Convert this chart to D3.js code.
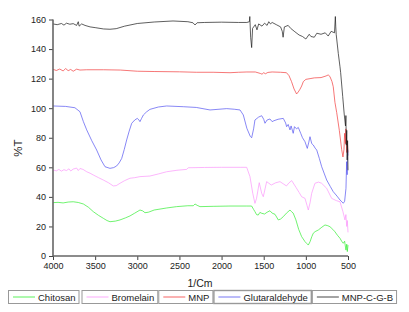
<!DOCTYPE html>
<head>
  <title>FTIR</title>
  <meta charset="utf-8">
  <script type="text/javascript" src="https://cdn.jsdelivr.net/npm/d3@7"></script>
  <style>
    body { margin: 0; background: #fff; }
    text { font-family: "Liberation Sans", Arial, sans-serif; fill: #222; }
  </style>
</head>
<body>
<script>
// legend order
var names = ["Chitosan", "Bromelain", "MNP", "Glutaraldehyde", "MNP-C-G-B"];
var colors = ["#33ee33", "#fa96fa", "#f23c3c", "#5555f0", "#1a1a1a"];

var xTicks = [4000, 3500, 3000, 2500, 2000, 1500, 1000, 500];
var yTicks = [0, 20, 40, 60, 80, 100, 120, 140, 160];

// wavenumber (1/cm) and %T
var chitosanW = [4000,3940,3880,3820,3760,3700,3640,3580,3522,3460,3403,3360,3324,3260,3205,3140,3087,3030,2968,2935,2909,2870,2850,2800,2650,2533,2400,2336,2315,2290,2256,2100,1900,1781,1700,1643,1620,1604,1585,1565,1545,1524,1490,1460,1426,1400,1366,1327,1300,1268,1230,1188,1170,1150,1118,1085,1050,1010,990,971,950,930,912,890,852,810,773,740,714,680,655,625,595,575,556,540,530,524,515,508,500];
var chitosanT = [36.1,36.3,35.9,36.5,36.7,36.2,35.2,33,30,27.5,25.5,24,23.2,23.6,24.4,25.8,27.1,29,31.1,30.5,29.3,29.6,30,31.1,32.5,33.4,34,34,35.2,34.3,33.4,33.6,33.8,33.8,33.8,33.8,31.5,30,28,27.7,29.5,28.9,28.4,29.6,30.6,29,28.2,24.4,25,26.6,29,31.1,30,29,24.4,18,13.1,9.7,8.5,7.4,9.7,13,15.4,16.5,17.6,19.5,21,20.5,19.8,18,16.4,14,12,10,8.6,10,6,4,8,3,7.4];

var bromelainW = [4000,3960,3930,3900,3870,3840,3810,3790,3760,3720,3700,3680,3644,3600,3560,3522,3460,3403,3340,3285,3250,3205,3150,3087,3030,2968,2850,2750,2651,2530,2414,2395,2200,2000,1781,1702,1663,1630,1604,1585,1553,1524,1505,1465,1410,1360,1307,1230,1200,1168,1118,1080,1050,1010,985,971,950,931,892,850,813,753,694,640,595,560,536,525,515,508,500];
var bromelainT = [58.2,57.6,58.6,57.4,58.4,57.8,59,57.5,58.8,59.5,57.8,59.2,58.6,57,56,54.8,53,51.4,49.5,47.4,47.6,49.2,51,52.6,53,53.7,54.1,55.5,57,58,58.6,59.7,59.9,60,60,60,53.7,42.4,35.6,39,49.6,42.4,40.1,50.3,48,49.5,50.3,47.4,49.5,51,46.5,43,40.1,39,34,31.1,36,42.4,49.2,50,49.2,45.8,39,37.5,36.7,30,24.4,28,20,24,16];

var mnpW = [4000,3960,3920,3880,3850,3820,3790,3760,3720,3680,3600,3400,3200,3000,2800,2500,2300,2100,1900,1800,1700,1600,1540,1520,1500,1480,1450,1400,1300,1230,1200,1170,1140,1110,1090,1070,1050,1030,1000,950,900,820,760,735,715,690,675,655,634,603,575,560,548,540,530,525,515,508,500];
var mnpT = [126.3,125.5,126.5,125.2,126.8,125.4,126.2,125,126.4,125.8,126,126,125.8,125,124.8,124.6,124.3,124.3,124,124.3,124.5,124.5,123.5,123,124,123.3,124.2,124.5,124.3,124,122,118,113,109.6,111,112.8,115,118,119.5,120,120.5,120.7,121.8,122.5,121.5,118,114.5,104,97,85,72,67,72,83,76,86,70,78,70];

var glutW = [4000,3850,3740,3680,3640,3600,3540,3482,3430,3383,3324,3280,3245,3215,3185,3155,3126,3096,3066,3030,3000,2980,2968,2950,2928,2890,2850,2750,2651,2454,2300,2137,1940,1850,1781,1742,1700,1660,1643,1620,1604,1560,1524,1500,1485,1460,1426,1400,1380,1330,1268,1240,1228,1210,1188,1175,1150,1135,1110,1090,1061,1040,1010,983,965,951,930,912,890,871,840,812,780,753,710,675,630,595,556,540,524,516,510,505,500];
var glutT = [101.5,101.2,100.3,97.6,91,85.3,78,71.7,65,60.4,59.3,59.8,60.9,63,66,72,78.5,84.5,89.8,92,93.1,92,90.9,93,95.4,97.5,99.2,100.8,101.5,101,100.5,98.8,99.7,99.3,98.8,95.4,86.4,81,80,86,92,94,94.9,92.5,89.8,92,92.7,90.9,91.5,92.5,93.1,90,87.5,89,85.3,88,83,87.5,86,87,83,80,77.3,72.8,77,80.7,76,75.1,73,71.7,66,60.4,55.5,51.4,47,43.5,40.5,37.9,35.7,37,45.8,63.8,55,72,68];

var mcgbW = [4000,3950,3900,3870,3840,3800,3760,3720,3700,3690,3660,3620,3560,3500,3400,3324,3250,3150,3000,2800,2576,2400,2340,2315,2290,2200,2000,1800,1700,1670,1665,1655,1643,1632,1600,1580,1560,1520,1490,1460,1440,1420,1400,1350,1300,1280,1270,1255,1210,1180,1130,1080,1040,1000,960,940,900,870,820,770,735,700,660,650,645,640,615,595,587,563,545,530,525,520,515,510,505,500];
var mcgbT = [157,156.5,157.3,156.2,157.5,156.8,157.2,156,158.5,155.5,157,156,155,154.5,153.6,153.4,153.8,155.5,157.3,158.3,159,158.5,157.8,156.3,157.8,158,158.2,158,158,158.5,162,148,141,154,156.5,153,157,155.5,157.5,156,158.5,157,158,156.5,155,152,148,155,156,154,151.7,149.5,148.5,146.8,150,148.5,148,150.7,150,151,148.8,152,151,162,155,150,137,128,124,108,96,88,95,75,85,65,78,58];

var series = [
  [chitosanW, chitosanT],
  [bromelainW, bromelainT],
  [mnpW, mnpT],
  [glutW, glutT],
  [mcgbW, mcgbT]
];

var W = 409, H = 312;
var svg = d3.select("body").append("svg")
  .attr("width", W).attr("height", H);

var x = d3.scaleLinear().domain([4000, 500]).range([53, 348]);
var y = d3.scaleLinear().domain([0, 160]).range([256, 19.5]);

var line = d3.line()
  .x(function(d) { return x(d[0]); })
  .y(function(d) { return y(d[1]); });

// draw black on top, like the original
for (var i = 0; i < series.length; i++) {
  var pts = series[i][0].map(function(w, j) { return [w, series[i][1][j]]; });
  svg.append("path")
    .datum(pts)
    .attr("fill", "none")
    .attr("stroke", colors[i])
    .attr("stroke-width", 0.7)
    .attr("stroke-linejoin", "round")
    .attr("d", line);
}

// minor ticks
var xMinor = d3.range(4000, 499, -250);
var yMinor = d3.range(0, 161, 10);

var gx = svg.append("g").attr("transform", "translate(0,256)");
gx.call(d3.axisBottom(x).tickValues(xMinor).tickSize(2.5).tickFormat(""));
gx.call(d3.axisBottom(x).tickValues(xTicks).tickSize(4).tickPadding(3).tickFormat(d3.format("d")));
gx.selectAll("text").style("font-size", "9px").attr("fill", "#222");
gx.selectAll(".domain").remove();

var gy = svg.append("g").attr("transform", "translate(53,0)");
gy.call(d3.axisLeft(y).tickValues(yMinor).tickSize(2.5).tickFormat(""));
gy.call(d3.axisLeft(y).tickValues(yTicks).tickSize(4).tickPadding(3));
gy.selectAll("text").style("font-size", "9px").attr("fill", "#222");
gy.selectAll(".domain").remove();
svg.selectAll(".tick line").attr("stroke", "#444");

// axis lines
svg.append("line").attr("x1", 53).attr("x2", 53).attr("y1", y(160)).attr("y2", y(0))
  .attr("stroke", "#666").attr("stroke-width", 1.6);
svg.append("line").attr("x1", 53).attr("x2", 348).attr("y1", y(0)).attr("y2", y(0))
  .attr("stroke", "#666").attr("stroke-width", 1.6);

svg.append("text")
  .attr("transform", "translate(22,148) rotate(-90)")
  .attr("text-anchor", "middle")
  .style("font-size", "11.5px")
  .text("%T");

svg.append("text")
  .attr("x", 200).attr("y", 287)
  .attr("text-anchor", "middle")
  .style("font-size", "10.5px")
  .text("1/Cm");

// legend boxes
var lx = 8;
var legend = svg.append("g").attr("id", "legend");
for (let i = 0; i < names.length; i++) {
  var g = legend.append("g");
  var t = g.append("text")
    .attr("x", lx + 30).attr("y", 300.5)
    .style("font-size", "9.5px")
    .text(names[i]);
  var tw = t.node().getComputedTextLength();
  g.insert("rect", "text")
    .attr("x", lx + 0.5).attr("y", 290.5)
    .attr("width", tw + 33).attr("height", 13)
    .attr("fill", "#fff")
    .attr("stroke", "#999")
    .attr("stroke-width", i == 3 ? 1.4 : 1);
  g.append("line")
    .attr("x1", lx + 5).attr("x2", lx + 27)
    .attr("y1", 297).attr("y2", 297)
    .attr("stroke", colors[i]).attr("stroke-width", 0.8);
  lx += tw + 34 + (i == 0 ? 2 : 0);
}
</script>
</body>
